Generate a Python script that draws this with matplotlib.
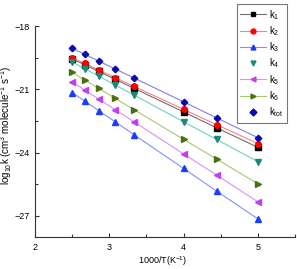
import numpy as np
import matplotlib.pyplot as plt
from matplotlib.ticker import MultipleLocator

plt.rcParams['font.family'] = ['Liberation Sans', 'DejaVu Sans']
plt.rcParams['mathtext.fontset'] = 'custom'
plt.rcParams['mathtext.rm'] = 'Liberation Sans'
plt.rcParams['mathtext.it'] = 'Liberation Sans'

# 1000/T values
x = [2.5, 2.667, 2.857, 3.077, 3.333, 4.0, 4.444, 5.0]

k1   = [-19.55, -19.83, -20.15, -20.52, -20.95, -22.07, -22.82, -23.75]
k2   = [-19.50, -19.77, -20.08, -20.44, -20.86, -21.95, -22.67, -23.57]
k3   = [-21.15, -21.55, -22.01, -22.53, -23.15, -24.75, -25.82, -27.14]
k4   = [-19.70, -20.02, -20.37, -20.79, -21.27, -22.54, -23.37, -24.43]
k5   = [-20.65, -21.03, -21.46, -21.96, -22.54, -24.06, -25.06, -26.33]
k6   = [-20.20, -20.55, -20.95, -21.42, -21.96, -23.37, -24.30, -25.48]
ktot = [-19.05, -19.33, -19.66, -20.03, -20.46, -21.59, -22.35, -23.29]

labels = ["k$_1$", "k$_2$", "k$_3$", "k$_4$", "k$_5$", "k$_6$", "k$_{tot}$"]

fig = plt.figure(figsize=(2.97, 2.69), dpi=100)
ax = fig.add_axes([0.118, 0.119, 0.875, 0.784])

# (data, marker, marker colour, line colour, line in legend)
series = [
    (k1,   "s", "#000000", "#707070", True),
    (k2,   "o", "#ff0000", "#ff8080", True),
    (k3,   "^", "#1a3cff", "#8090ff", True),
    (k4,   "v", "#208878", "#70d0c0", False),
    (k5,   "<", "#c040f0", "#d890f8", True),
    (k6,   ">", "#4a7010", "#a8c870", True),
    (ktot, "D", "#0a0aa8", "#8080e8", False),
]

for (y, m, mc, lc, show_line), lab in zip(series, labels):
    ms = 3.3 if m == "D" else 4
    ax.plot(x, y, "-", color=lc, lw=0.8, zorder=2)
    ax.plot(x, y, m, color=mc, ms=ms, ls="none", zorder=3)
    # legend proxy
    if show_line:
        ax.plot([], [], marker=m, mfc=mc, mec=mc, color=lc, ms=3.5, lw=0.8, label=lab)
    else:
        ax.plot([], [], marker=m, mfc=mc, mec=mc, ls="none", ms=3.5, label=lab)

ax.set_xlim(2, 5.5)
ax.set_ylim(-28, -18)
ax.xaxis.set_major_locator(MultipleLocator(1))
ax.xaxis.set_minor_locator(MultipleLocator(0.5))
ax.yaxis.set_major_locator(MultipleLocator(3))
ax.yaxis.set_minor_locator(MultipleLocator(1.5))
ax.tick_params(direction="in", labelsize=6.5, length=3, width=0.8, colors="#333333", pad=4)
ax.tick_params(which="minor", direction="in", length=2, width=0.8, colors="#333333")
for t in ax.get_xticklabels() + ax.get_yticklabels():
    t.set_color("black")
ax.spines["top"].set_visible(False)
ax.spines["right"].set_visible(False)
for s in ["left", "bottom"]:
    ax.spines[s].set_color("#333333")
    ax.spines[s].set_linewidth(0.8)

ax.set_xlabel("1000/T(K$^{-1}$)", fontsize=6.5)
ax.set_ylabel("log$_{10}$k (cm$^{3}$ molecule$^{-1}$ s$^{-1}$)", fontsize=7)
ax.xaxis.set_label_coords(0.49, -0.08)
ax.yaxis.set_label_coords(-0.08, 0.53)

leg = fig.legend(loc="upper right", bbox_to_anchor=(287 / 297, 1 - 4 / 269),
                 fontsize=7, frameon=True, fancybox=False, edgecolor="#555555",
                 handlelength=2.6, handletextpad=0.3, labelspacing=0.25,
                 borderpad=0.4, borderaxespad=0)
leg.get_frame().set_linewidth(0.8)

fig.savefig("out.png", dpi=100)
